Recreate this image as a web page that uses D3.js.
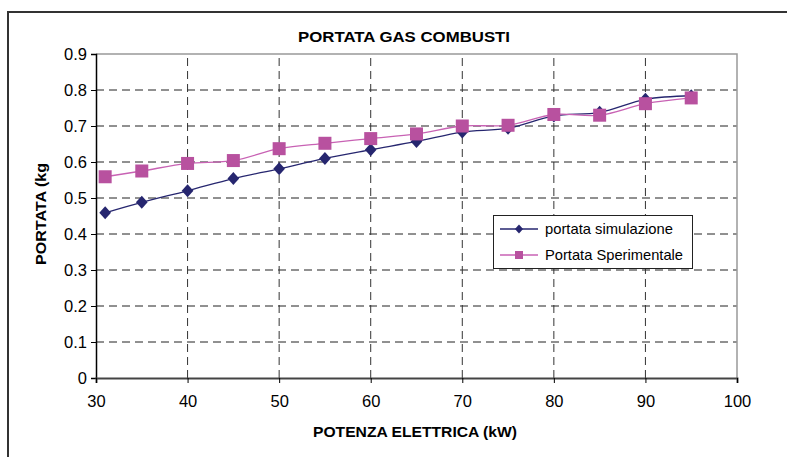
<!DOCTYPE html>
<html><head><meta charset="utf-8">
<script src="https://cdn.jsdelivr.net/npm/d3@7"></script>
<style>body{margin:0;background:#fff}svg{display:block}text{font-family:"Liberation Sans",Arial,sans-serif}</style>
</head><body>
<script>
const potenza = [31,35,40,45,50,55,60,65,70,75,80,85,90,95];
const simulazione = [0.459,0.488,0.520,0.554,0.581,0.610,0.634,0.657,0.683,0.694,0.728,0.738,0.774,0.784];
const sperimentale = [0.559,0.575,0.596,0.604,0.637,0.652,0.665,0.678,0.700,0.702,0.732,0.730,0.762,0.778];
const xTicks = [30,40,50,60,70,80,90,100];
const yTicks = [0,0.1,0.2,0.3,0.4,0.5,0.6,0.7,0.8,0.9];
const seriesNames = ["portata simulazione","Portata Sperimentale"];
const title = "PORTATA GAS COMBUSTI";
const xTitle = "POTENZA ELETTRICA (kW)";
const yTitle = "PORTATA (kg";

const W=787,H=457;
const svg=d3.select("body").append("svg").attr("width",W).attr("height",H);
svg.append("rect").attr("x",8).attr("y",12).attr("width",800).attr("height",460)
  .attr("fill","#fff").attr("stroke","#333").attr("stroke-width",2);

const x=d3.scaleLinear().domain([30,100]).range([96,737]);
const y=d3.scaleLinear().domain([0,0.9]).range([378,54]);

// grid
const g=svg.append("g");
g.selectAll(".hg").data(yTicks.filter(v=>v>0&&v<0.9)).enter().append("line")
  .attr("x1",x(30)).attr("x2",x(100)).attr("y1",d=>y(d)).attr("y2",d=>y(d))
  .attr("stroke","#222").attr("stroke-width",1).attr("stroke-dasharray","8,5");
g.selectAll(".vg").data(xTicks.filter(v=>v>30&&v<100)).enter().append("line")
  .attr("y1",y(0)).attr("y2",y(0.9)).attr("x1",d=>x(d)).attr("x2",d=>x(d))
  .attr("stroke","#333").attr("stroke-width",1).attr("stroke-dasharray","8,5");
// plot border top/right
svg.append("path").attr("d",`M${x(30)},${y(0.9)}H${x(100)}V${y(0)}`)
  .attr("fill","none").attr("stroke","#999").attr("stroke-width",1.5);

// axes
const yAxis=d3.axisLeft(y).tickValues(yTicks).tickSize(5).tickPadding(4).tickFormat(d3.format("~g"));
const ya=svg.append("g").attr("transform",`translate(${x(30)},0)`).call(yAxis);
ya.select(".domain").attr("stroke","#000").attr("stroke-width",1.5);
ya.selectAll("text").attr("font-size",16.5).attr("fill","#000");
const xAxis=d3.axisBottom(x).tickValues(xTicks).tickSize(5).tickPadding(12);
const xa=svg.append("g").attr("transform",`translate(0,${y(0)})`).call(xAxis);
xa.select(".domain").attr("stroke","#444").attr("stroke-width",2);
xa.selectAll("text").attr("font-size",16.5).attr("fill","#000");

// lines
const line=d3.line().x(d=>x(d[0])).y(d=>y(d[1])).curve(d3.curveCatmullRom.alpha(0.5));
const simData=potenza.map((p,i)=>[p,simulazione[i]]);
const speData=potenza.map((p,i)=>[p,sperimentale[i]]);
const cSim="#26266f", cSpe="#b8519f";
svg.append("path").datum(simData).attr("d",line).attr("fill","none").attr("stroke",cSim).attr("stroke-width",1.3);
svg.append("path").datum(speData).attr("d",line).attr("fill","none").attr("stroke","#c862b4").attr("stroke-width",1.3);
const diamond=(s)=>`M0,${-s}L${s*0.9},0L0,${s}L${-s*0.9},0Z`;
svg.selectAll(".dm").data(simData).enter().append("path")
  .attr("d",diamond(6.5)).attr("transform",d=>`translate(${x(d[0])},${y(d[1])})`).attr("fill",cSim);
svg.selectAll(".sq").data(speData).enter().append("rect")
  .attr("x",d=>x(d[0])-6.5).attr("y",d=>y(d[1])-6.5).attr("width",13).attr("height",13).attr("fill",cSpe);

// titles
svg.append("text").attr("x",404).attr("y",42).attr("text-anchor","middle").attr("font-weight","bold")
  .attr("font-size",15).attr("textLength",212).attr("lengthAdjust","spacingAndGlyphs").text(title);
svg.append("text").attr("x",415).attr("y",437).attr("text-anchor","middle").attr("font-weight","bold")
  .attr("font-size",15).attr("textLength",204).attr("lengthAdjust","spacingAndGlyphs").text(xTitle);
svg.append("text").attr("transform","translate(46,214) rotate(-90)").attr("text-anchor","middle").attr("font-weight","bold")
  .attr("font-size",15).attr("textLength",102).attr("lengthAdjust","spacingAndGlyphs").text(yTitle);

// legend
const lg=svg.append("g");
lg.append("rect").attr("x",493.5).attr("y",215.5).attr("width",199).attr("height",53)
  .attr("fill","#fff").attr("stroke","#222").attr("stroke-width",1);
const ly=[229,255];
[cSim,"#c862b4"].forEach((c,i)=>{
  lg.append("line").attr("x1",500).attr("x2",538).attr("y1",ly[i]).attr("y2",ly[i]).attr("stroke",c).attr("stroke-width",1.3);
  if(i===0) lg.append("path").attr("d",diamond(4.5)).attr("transform",`translate(519,${ly[i]})`).attr("fill",cSim);
  else lg.append("rect").attr("x",515).attr("y",ly[i]-4).attr("width",8).attr("height",8).attr("fill",cSpe);
  lg.append("text").attr("x",545).attr("y",ly[i]+5).attr("font-size",15).attr("textLength",i===0?128:138).attr("lengthAdjust","spacingAndGlyphs").text(seriesNames[i]);
});
</script>
</body></html>
